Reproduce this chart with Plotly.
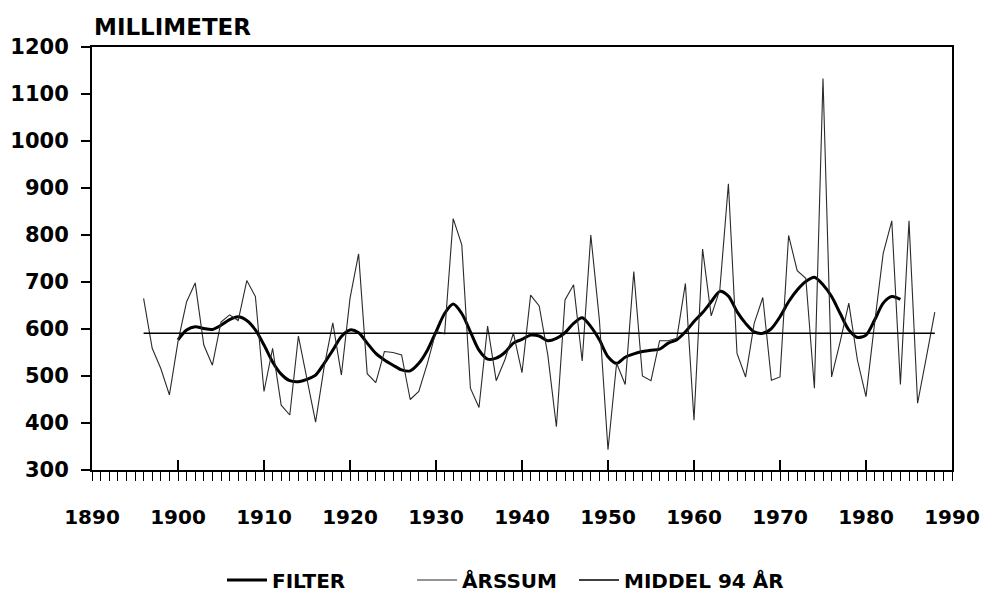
import plotly.graph_objects as go

# ── Data ─────────────────────────────────────────────────────────────────────
years = list(range(1896, 1989))
arssum = [
    665, 559, 516, 460, 573, 658, 698, 566, 523, 615,   # 1896-1905
    630, 618, 703, 669, 467, 559, 438, 417, 585, 491,   # 1906-1915
    402, 520, 613, 502, 665, 760, 505, 486, 552, 550,   # 1916-1925
    545, 450, 467, 527, 595, 590, 835, 779, 474, 433,   # 1926-1935
    606, 490, 534, 591, 507, 672, 649, 545, 392, 662,   # 1936-1945
    694, 532, 800, 619, 343, 527, 482, 722, 500, 490,   # 1946-1955
    575, 575, 580, 697, 406, 770, 628, 683, 909, 548,   # 1956-1965
    498, 612, 667, 491, 498, 799, 724, 708, 474, 1133,  # 1966-1975
    498, 573, 655, 534, 456, 612, 761, 830, 482, 830,   # 1976-1985
    442, 538, 636,                                      # 1986-1988
]

filter_years = list(range(1900, 1985))
filter_vals = [
    577, 598, 605, 601, 599, 608, 620, 626, 618, 598,   # 1900-1909
    566, 530, 504, 490, 488, 493, 502, 527, 555, 584,   # 1910-1919
    598, 592, 570, 548, 534, 523, 513, 511, 527, 555,   # 1920-1929
    594, 633, 653, 633, 594, 555, 536, 538, 550, 570,   # 1930-1939
    578, 587, 585, 575, 580, 592, 612, 624, 605, 577,   # 1940-1949
    541, 527, 540, 547, 552, 555, 557, 570, 577, 594,   # 1950-1959
    616, 635, 658, 680, 670, 637, 612, 594, 591, 601,   # 1960-1969
    626, 658, 683, 701, 710, 694, 669, 633, 598, 582,   # 1970-1979
    587, 619, 655, 669, 663,                            # 1980-1984
]

mean_94 = 591
mean_years = [1896, 1988]

FONT = "DejaVu Sans"
W, H = 984, 598

# ── Figure ───────────────────────────────────────────────────────────────────
fig = go.Figure()

fig.add_trace(go.Scatter(
    x=filter_years, y=filter_vals, mode='lines', name='FILTER',
    line=dict(color='black', width=3, shape='spline', smoothing=0.8),
    legend='legend', showlegend=True,
))
fig.add_trace(go.Scatter(
    x=years, y=arssum, mode='lines', name='ÅRSSUM',
    line=dict(color='#2a2a2a', width=1.1),
    legend='legend2', showlegend=True,
))
# mean line on the overlay axis (same range) so the yearly tick axis is drawn
fig.add_trace(go.Scatter(
    x=mean_years, y=[mean_94, mean_94], mode='lines', name='MIDDEL 94 ÅR',
    line=dict(color='black', width=1.5), xaxis='x2',
    legend='legend3', showlegend=True,
))


def leg(x_px):
    return dict(
        orientation='h', xref='container', x=x_px / W, xanchor='left',
        yref='container', y=(H - 580) / H, yanchor='middle',
        font=dict(family=FONT, size=20, weight='bold'),
        bgcolor='rgba(0,0,0,0)', itemwidth=40,
    )


fig.update_layout(
    width=W, height=H,
    showlegend=True,
    margin=dict(l=92, r=32, t=47, b=128),
    plot_bgcolor='white', paper_bgcolor='white',
    font=dict(family=FONT, size=20, color='black', weight='bold'),
    xaxis=dict(
        range=[1890, 1990], tickmode='linear', tick0=1890, dtick=10,
        ticks='inside', ticklen=10, tickwidth=1.5, tickcolor='black',
        showline=True, linecolor='black', linewidth=2, mirror=True,
        showgrid=False, zeroline=False, ticklabelstandoff=28,
        automargin=False,
        tickfont=dict(family=FONT, size=20, weight='bold'),
    ),
    xaxis2=dict(
        range=[1890, 1990], overlaying='x', anchor='y', side='bottom',
        tickmode='linear', tick0=1890, dtick=1,
        ticks='outside', ticklen=10, tickwidth=1.2, tickcolor='black',
        showticklabels=False, showline=False, showgrid=False, zeroline=False,
        automargin=False,
    ),
    yaxis=dict(
        range=[300, 1200], tickmode='linear', tick0=300, dtick=100,
        ticks='outside', ticklen=9, tickwidth=1.5, tickcolor='black',
        showline=True, linecolor='black', linewidth=2, mirror=True,
        showgrid=False, zeroline=False, ticklabelstandoff=8,
        automargin=False,
        tickfont=dict(family=FONT, size=21, weight='bold'),
    ),
    legend=leg(222),
    legend2=leg(412),
    legend3=leg(574),
    annotations=[dict(
        text='MILLIMETER', xref='paper', yref='paper',
        x=0, y=1.047, xanchor='left', yanchor='middle', showarrow=False,
        font=dict(family=FONT, size=23, weight='bold'),
    )],
)

fig.write_html("out.html", config={'displayModeBar': False},
               post_script="document.body.style.margin='0';")
